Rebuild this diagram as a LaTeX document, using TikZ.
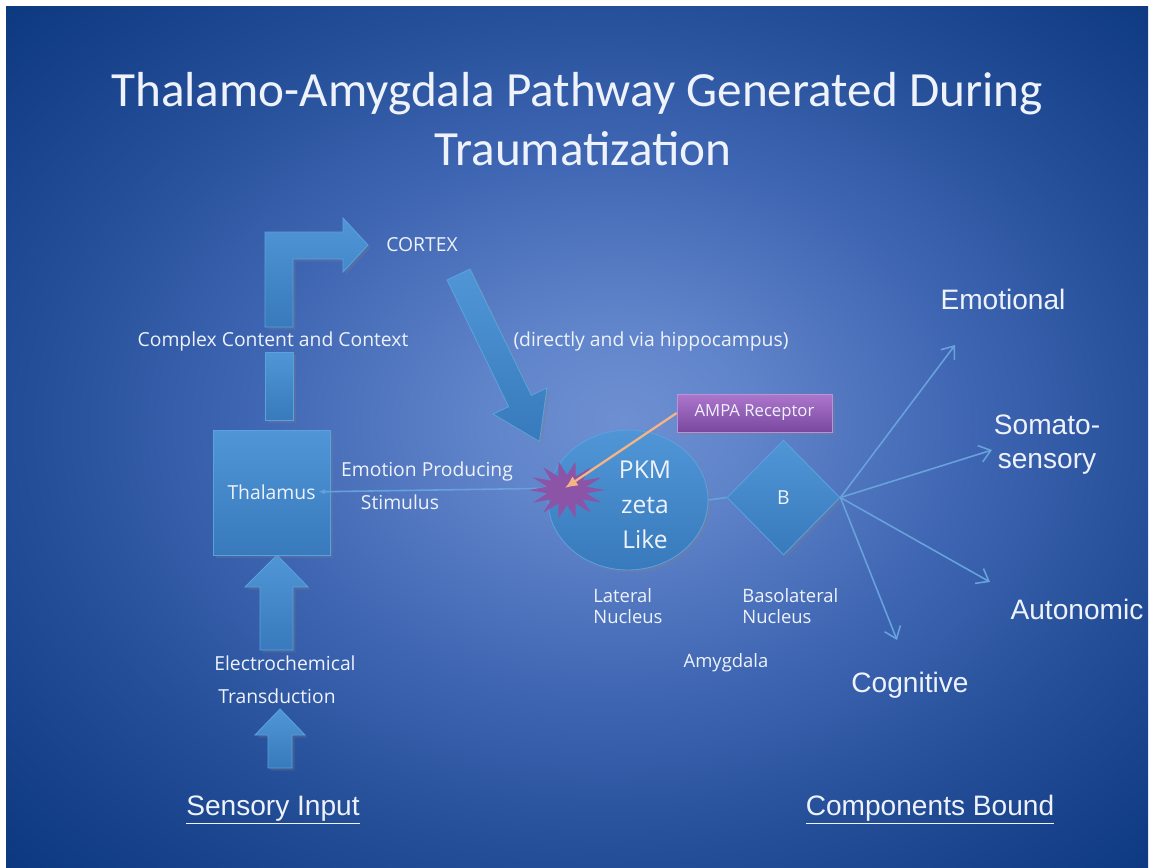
\documentclass[tikz,border=0pt]{standalone}
\usepackage{fontspec}
\setmainfont{Carlito}
\newfontfamily\labelfont{Open Sans}
\newfontfamily\arialfont{Liberation Sans}
\usepackage{tikz}
\usetikzlibrary{arrows.meta}
\usetikzlibrary{shapes}
\usetikzlibrary{shadows}
\usetikzlibrary{positioning}

\definecolor{bgc}{RGB}{110,144,210}
\definecolor{bgc2}{RGB}{96,132,202}
\definecolor{bgm}{RGB}{62,101,178}
\definecolor{bge}{RGB}{36,78,152}
\definecolor{bgk}{RGB}{12,56,128}
\definecolor{blocktop}{RGB}{80,150,215}
\definecolor{blockbot}{RGB}{56,122,188}
\definecolor{blockedge}{RGB}{92,160,222}
\definecolor{burstc}{RGB}{140,84,166}
\definecolor{ampatop}{RGB}{172,118,204}
\definecolor{ampabot}{RGB}{122,72,160}
\definecolor{tan}{RGB}{246,180,132}
\definecolor{linkc}{RGB}{104,162,220}
\definecolor{txt}{RGB}{238,242,250}

\pgfdeclareradialshading{slidebg}{\pgfpoint{2bp}{1bp}}{color(0bp)=(bgc); color(6bp)=(bgc2); color(16bp)=(bgm); color(25bp)=(bge); color(36bp)=(bgk); color(50bp)=(bgk)}

\begin{document}
\begin{tikzpicture}[x=0.02cm,y=-0.02cm,
	block/.style={top color=blocktop,bottom color=blockbot,draw=blockedge,line width=0.5pt,
		drop shadow={opacity=0.25,shadow xshift=1.5pt,shadow yshift=-1.5pt}},
	lbl/.style={text=txt,font=\labelfont\fontsize{11}{13}\selectfont,inner sep=0pt},
	nuc/.style={text=txt,font=\labelfont\fontsize{10.5}{12}\selectfont,inner sep=0pt,align=left},
	outlbl/.style={text=txt,font=\arialfont\fontsize{16}{19.3}\selectfont,inner sep=0pt,align=center},
	outarrow/.style={linkc,line width=0.9pt,-{Straight Barb[length=2.2mm,width=3.4mm]}}]
			\useasboundingbox (0,0) rectangle (1153,867);
			\fill[white] (0,0) rectangle (1153,867);
			\shade[shading=slidebg] (6,6) rectangle (1148,867);
			
			\node[text=txt,font=\fontsize{28}{34}\selectfont,anchor=base] (title) at (577,106) {Thalamo-Amygdala Pathway Generated During};
			\node[text=txt,font=\fontsize{28}{34}\selectfont,anchor=base] (title2) at (583,165) {Traumatization};
			
			\draw[block] (265,327) -- (265,232) -- (343,232) -- (343,218) -- (368,245) -- (343,272) -- (343,259) -- (293,259) -- (293,327) -- cycle;
			\draw[block] (265,352) rectangle (293,420);
			\draw[block] (447,280) -- (470,269) -- (531.4,395.4) -- (546.9,387.9) -- (539.5,441.5) -- (493.1,414.1) -- (508.6,406.6) -- cycle;
			\draw[block] (260,650) -- (260,587) -- (245,587) -- (277,555) -- (308,587) -- (293,587) -- (293,650) -- cycle;
			\draw[block] (268,768) -- (268,735) -- (255,735) -- (280,709) -- (305,735) -- (292,735) -- (292,768) -- cycle;
			
			\node[block,minimum width=2.34cm,minimum height=2.5cm,inner sep=0pt,lbl] (thal) at (271.5,492.5) {Thalamus};
			\coordinate (burst) at (565,488);
			\draw[linkc,line width=0.9pt,-{Latex[length=1.3mm]},shorten >=-0.24cm] (burst) -- (thal);
			
			\node[ellipse,block,minimum width=3.2cm,minimum height=2.8cm] (lat) at (628,500) {};
			\node[diamond,block,minimum width=2.26cm,minimum height=2.3cm,inner sep=0pt,lbl] (bl) at (783.5,497.5) {B};
			\draw[linkc,line width=0.9pt] (lat.east) -- (bl.west);
			\fill[burstc] plot[samples at={0,...,27},variable=\k] ({567+ifthenelse(mod(\k,2)==0,38,20)*cos(\k*360/28)},{490+ifthenelse(mod(\k,2)==0,29,15)*sin(\k*360/28)}) -- cycle;
			\node[text=txt,font=\labelfont\fontsize{14}{19.8}\selectfont,align=center,inner sep=0pt] (pkm) at (645,505) {PKM\\zeta\\Like};
			
			\node[top color=ampatop,bottom color=ampabot,draw=ampatop!80!white,line width=0.4pt,minimum width=3.1cm,minimum height=0.76cm,
				text=txt,font=\labelfont\fontsize{9.5}{11}\selectfont,drop shadow={opacity=0.25,shadow xshift=1.5pt,shadow yshift=-1.5pt}] (ampa) at (754.5,413) {AMPA Receptor};
			\draw[tan,line width=1.3pt,-{Latex[length=2.5mm,width=2.2mm]}] (ampa.west) -- (burst);
			
			\coordinate (emo) at (955,345);
			\coordinate (soma) at (992,450);
			\coordinate (auto) at (990,582);
			\coordinate (cogn) at (897,640);
			\foreach \t in {emo,soma,auto,cogn}
				\draw[outarrow] (bl.east) -- (\t);
			
			\node[lbl] (cortex) at (422,245) {CORTEX};
			\node[lbl] (complex) at (273,341) {Complex Content and Context};
			\node[lbl] (direct) at (651,341) {(directly and via hippocampus)};
			\node[lbl] (emoprod) at (427,471) {Emotion Producing};
			\node[lbl] (stim) at (400,502) {Stimulus};
			\node[lbl] (electro) at (285,663) {Electrochemical};
			\node[lbl] (trans) at (277,696) {Transduction};
			\node[nuc,anchor=west] (latlbl) at (593,606) {Lateral\\Nucleus};
			\node[nuc,anchor=west] (bllbl) at (742,606) {Basolateral\\Nucleus};
			\node[nuc] (amyg) at (726,663) {Amygdala};
			
			\node[outlbl] (emolbl) at (1003,299) {Emotional};
			\node[outlbl] (somalbl) at (1047,445) {Somato-\\sensory};
			\node[outlbl] (autolbl) at (1077,609) {Autonomic};
			\node[outlbl] (cognlbl) at (910,685) {Cognitive};
			\node[outlbl] (sensory) at (273,810) {\underline{Sensory Input}};
			\node[outlbl] (bound) at (930,810) {\underline{Components Bound}};
			\end{tikzpicture}
\end{document}
